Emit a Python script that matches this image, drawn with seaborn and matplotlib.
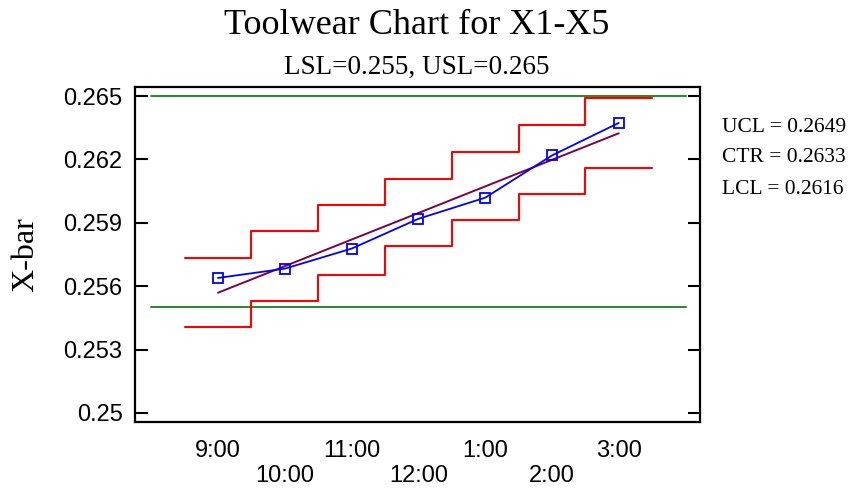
import numpy as np
import pandas as pd
import matplotlib
matplotlib.use("Agg")
import matplotlib.pyplot as plt
import seaborn as sns

# ---- data ----
times = ["9:00", "10:00", "11:00", "12:00", "1:00", "2:00", "3:00"]
xbar = [0.25639, 0.25683, 0.25778, 0.25919, 0.26019, 0.26219, 0.26373]
ucl = [0.25733, 0.25859, 0.25985, 0.26107, 0.26236, 0.26365, 0.26489]
lcl = [0.25405, 0.25531, 0.25655, 0.25789, 0.25911, 0.26035, 0.26159]
trend_ends = [0.25569, 0.26324]
lsl, usl = 0.255, 0.265
ytick_vals = [0.25, 0.253, 0.256, 0.259, 0.262, 0.265]
ytick_labels = ["0.25", "0.253", "0.256", "0.259", "0.262", "0.265"]
stats_text = ["UCL = 0.2649", "CTR = 0.2633", "LCL = 0.2616"]

sns.set_style("white")
plt.rcParams.update({"text.color": "black", "axes.labelcolor": "black",
                     "xtick.color": "black", "ytick.color": "black"})
serif = ["Liberation Serif", "DejaVu Serif"]
sans = ["Liberation Sans", "DejaVu Sans"]

fig = plt.figure(figsize=(8.54, 4.90), dpi=100)
ax = fig.add_axes([135 / 854, 1 - 422 / 490, 565 / 854, 335 / 490])

pos = np.arange(1, len(times) + 1)
edges = np.append(pos - 0.5, pos[-1] + 0.5)

df_u = pd.DataFrame({"x": edges, "y": ucl + [ucl[-1]]})
df_l = pd.DataFrame({"x": edges, "y": lcl + [lcl[-1]]})
sns.lineplot(data=df_u, x="x", y="y", ax=ax, color="#ff0000", lw=1.5,
             drawstyle="steps-post", zorder=3)
sns.lineplot(data=df_l, x="x", y="y", ax=ax, color="#ff0000", lw=1.5,
             drawstyle="steps-post", zorder=3)

# spec lines
for v in (usl, lsl):
    sns.lineplot(x=[0, len(times) + 1], y=[v, v], ax=ax, color="#228b22", lw=1.4, zorder=2)

# trend / center line
sns.lineplot(x=[pos[0], pos[-1]], y=trend_ends, ax=ax, color="#800040", lw=1.4, zorder=4)

# data
df = pd.DataFrame({"x": pos, "y": xbar})
sns.lineplot(data=df, x="x", y="y", ax=ax, color="#0000ff", lw=1.3, marker="s",
             markersize=6.5, markerfacecolor="none", markeredgecolor="#0000ff",
             markeredgewidth=1.3, zorder=5)

ax.set_xlim(-0.243, 8.216)
ax.set_ylim(0.24957, 0.26543)

ax.set_yticks(ytick_vals)
ax.set_yticklabels(ytick_labels, fontfamily=sans, fontsize=17)
ax.set_xticks(pos)
ax.set_xticklabels([t if i % 2 == 0 else "\n" + t for i, t in enumerate(times)],
                   fontfamily=sans, fontsize=17, linespacing=1.2)
ax.tick_params(axis="y", direction="in", length=9, width=1.5, left=True, right=True,
               pad=9)
ax.tick_params(axis="x", length=0, pad=13)

for s in ax.spines.values():
    s.set_visible(True)
    s.set_color("black")
    s.set_linewidth(1.6)

ax.set_xlabel("")
ax.set_ylabel("X-bar", fontfamily=serif, fontsize=23, labelpad=17)

fig.text(417 / 854, 1 - 25 / 490, "Toolwear Chart for X1-X5", ha="center", va="center",
         fontfamily=serif, fontsize=26)
fig.text(417 / 854, 1 - 67 / 490, "LSL=0.255, USL=0.265", ha="center", va="center",
         fontfamily=serif, fontsize=19.5)

for i, t in enumerate(stats_text):
    fig.text(722 / 854, 1 - (127 + 31 * i) / 490, t, ha="left", va="center",
             fontfamily=serif, fontsize=15.5)

fig.savefig("out.png", dpi=100)
